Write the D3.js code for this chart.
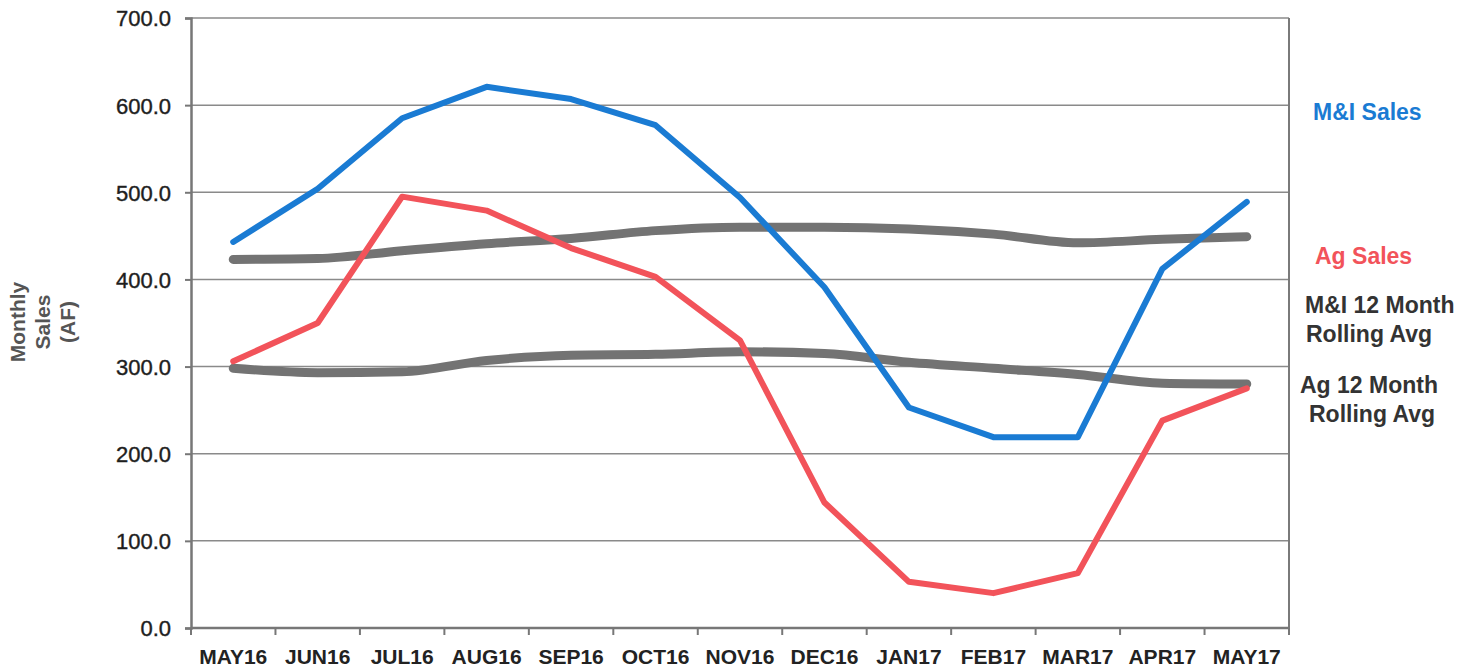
<!DOCTYPE html>
<html><head><meta charset="utf-8">
<script src="https://cdn.jsdelivr.net/npm/d3@7"></script>
<style>body{margin:0;background:#fff;} svg{display:block;font-family:"Liberation Sans",Arial,sans-serif;}</style>
</head><body>
<svg id="c" width="1474" height="669"></svg>
<script>
const months = ["MAY16","JUN16","JUL16","AUG16","SEP16","OCT16","NOV16","DEC16","JAN17","FEB17","MAR17","APR17","MAY17"];
const miSales = [443, 504, 585, 621, 607, 577, 494, 391, 253, 219, 219, 412, 489];
const agSales = [306, 350, 495, 479, 436, 403, 330, 144, 53, 40, 63, 238, 275];
const miRolling = [423, 424, 433, 441, 447, 456, 460, 460, 458, 452, 442, 446, 449];
const agRolling = [298, 293, 294, 307, 313, 314, 317, 315, 305, 298, 291, 281, 280];
const yTicks = [0, 100, 200, 300, 400, 500, 600, 700];

const svg = d3.select("#c");
const L = 191, R = 1289, T = 18, B = 628;
const x = d3.scaleBand().domain(months).range([L, R]);
const y = d3.scaleLinear().domain([0, 700]).range([B, T]);
const cx = d => x(d) + x.bandwidth() / 2;

// gridlines
svg.append("g").selectAll("line").data(yTicks.filter(v => v > 0)).join("line")
  .attr("x1", L).attr("x2", R).attr("y1", d => y(d)).attr("y2", d => y(d))
  .attr("stroke", "#8a8a8a").attr("stroke-width", 1.5);
// right border
svg.append("line").attr("x1", R).attr("x2", R).attr("y1", T).attr("y2", B)
  .attr("stroke", "#7a7a7a").attr("stroke-width", 2);

// y axis
const ya = svg.append("g").attr("transform", `translate(${L},0)`)
  .call(d3.axisLeft(y).tickValues(yTicks).tickFormat(d3.format(".1f")).tickSize(6).tickPadding(14));
ya.select(".domain").attr("stroke", "#777").attr("stroke-width", 2.5);
ya.selectAll(".tick line").attr("stroke", "#777").attr("stroke-width", 2);
ya.selectAll("text").attr("font-size", 22).attr("fill", "#1e1e1e")
  .attr("font-family", "Liberation Sans, Arial, sans-serif").attr("dy", "0.36em")
  .attr("stroke", "#1e1e1e").attr("stroke-width", 0.4);

// x axis with boundary ticks
const xa = svg.append("g").attr("transform", `translate(0,${B})`);
xa.append("line").attr("x1", L).attr("x2", R).attr("stroke", "#777").attr("stroke-width", 2.5);
const bounds = months.map(m => x(m)).concat([R]);
xa.selectAll("line.tk").data(bounds).join("line").attr("class", "tk")
  .attr("x1", d => d).attr("x2", d => d).attr("y1", 0).attr("y2", 7)
  .attr("stroke", "#777").attr("stroke-width", 2);
xa.selectAll("text").data(months).join("text")
  .attr("x", d => cx(d)).attr("y", 36).attr("text-anchor", "middle")
  .attr("font-size", 21).attr("font-weight", "bold").attr("fill", "#222").text(d => d);

// axis title
const title = ["Monthly", "Sales", "(AF)"];
svg.append("g").attr("transform", "translate(0,322) rotate(-90)")
  .selectAll("text").data(title).join("text")
  .attr("x", 0).attr("y", (d, i) => 25 + i * 25).attr("text-anchor", "middle")
  .attr("font-size", 21).attr("font-weight", "bold").attr("fill", "#555").text(d => d);

// lines
const straight = d3.line().x((d, i) => cx(months[i])).y(d => y(d));
const smooth = d3.line().x((d, i) => cx(months[i])).y(d => y(d)).curve(d3.curveMonotoneX);
const series = [
  {data: miRolling, gen: smooth, color: "#737373", w: 9},
  {data: agRolling, gen: smooth, color: "#737373", w: 9},
  {data: agSales, gen: straight, color: "#f2535a", w: 6},
  {data: miSales, gen: straight, color: "#1a7bd3", w: 6}
];
svg.append("g").selectAll("path").data(series).join("path")
  .attr("d", s => s.gen(s.data)).attr("fill", "none")
  .attr("stroke", s => s.color).attr("stroke-width", s => s.w)
  .attr("stroke-linecap", "round").attr("stroke-linejoin", "round");

// labels
const labels = [
  {t: "M&I Sales", x: 1313, y: 120, c: "#1a7bd3"},
  {t: "Ag Sales", x: 1315, y: 264, c: "#f2535a"},
  {t: "M&I 12 Month", x: 1305, y: 313, c: "#333"},
  {t: "Rolling Avg", x: 1306, y: 342, c: "#333"},
  {t: "Ag 12 Month", x: 1300, y: 393, c: "#333"},
  {t: "Rolling Avg", x: 1309, y: 422, c: "#333"}
];
svg.append("g").selectAll("text").data(labels).join("text")
  .attr("x", d => d.x).attr("y", d => d.y).attr("fill", d => d.c)
  .attr("font-size", 23).attr("font-weight", "bold").text(d => d.t);
</script>
</body></html>
